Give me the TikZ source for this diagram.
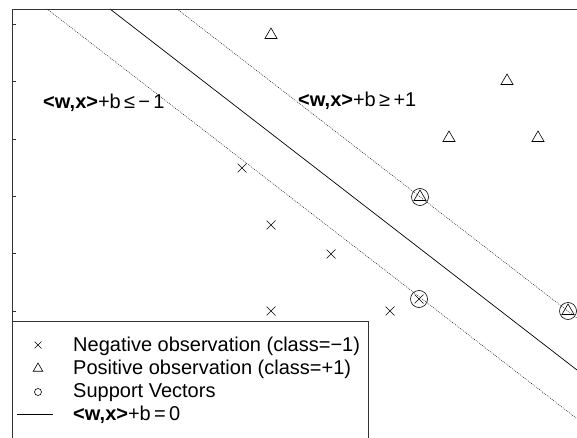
\documentclass[tikz,border=0pt]{standalone}
\usepackage{fontspec}
\setmainfont{Liberation Sans}
\usetikzlibrary{shapes.geometric}
\begin{document}
\begin{tikzpicture}[x=1pt,y=-1pt,
  axisline/.style={draw=black!80,line width=0.9pt},
  sepline/.style={draw=black,line width=0.7pt},
  marginline/.style={draw=black,line width=0.5pt,dash pattern=on 0.8pt off 1.2pt},
  crossmk/.style={inner sep=0pt,minimum size=#1,
    path picture={\draw[line width=0.6pt] (path picture bounding box.south west) -- (path picture bounding box.north east)
      (path picture bounding box.north west) -- (path picture bounding box.south east);}},
  crossmk/.default=9pt,
  trimk/.style={regular polygon,regular polygon sides=3,draw,line width=0.6pt,inner sep=0pt,minimum size=#1},
  trimk/.default=14pt,
  svmk/.style={circle,draw,line width=0.6pt,inner sep=0pt,minimum size=#1},
  svmk/.default=17pt,
  lbl/.style={font=\fontsize{20}{22}\selectfont,inner sep=0pt,anchor=base west},
  legtxt/.style={font=\fontsize{20}{22}\selectfont,inner sep=0pt,anchor=base west}
]
\useasboundingbox (0,0) rectangle (577,438);
\begin{scope}
\clip (12,9) rectangle (577,438);
% margin lines and separating hyperplane
\coordinate (lowA) at (47,9);
\coordinate (lowB) at (577,418.7);
\coordinate (midA) at (110,9);
\coordinate (midB) at (577,370);
\coordinate (upA) at (177,9);
\coordinate (upB) at (577,318.2);
\draw[marginline] (lowA) -- (lowB);
\draw[sepline] (midA) -- (midB);
\draw[marginline] (upA) -- (upB);
\end{scope}
% axes
\coordinate (ax0) at (12,438);
\coordinate (ax1) at (12,9);
\coordinate (ax2) at (577,9);
\draw[axisline] (ax0) -- (ax1) -- (ax2);
\foreach \ty in {24.5,81.8,139.1,196.4,253.7,311,368.3,425.6}
  \draw[axisline] (12,\ty) -- ++(3.5,0);
% positive observations
\node[trimk] (p1) at (271,35) {};
\node[trimk] (p2) at (507,81) {};
\node[trimk] (p3) at (449,138) {};
\node[trimk] (p4) at (538,138) {};
\node[trimk] (p5) at (420,197) {};
\node[trimk] (p6) at (568,311) {};
% negative observations
\node[crossmk] (n1) at (242,168) {};
\node[crossmk] (n2) at (271,225) {};
\node[crossmk] (n3) at (331,254) {};
\node[crossmk] (n4) at (271,311) {};
\node[crossmk] (n5) at (390,311) {};
\node[crossmk] (n6) at (419,299) {};
% support vectors
\node[svmk] (s1) at (p5) {};
\node[svmk] (s2) at (p6) {};
\node[svmk] (s3) at (n6) {};
% region labels
\node[lbl] (lneg) at (43,108.5) {\textbf{<w,x>}+b\,≤\,−\,1};
\node[lbl] (lpos) at (298,106.5) {\textbf{<w,x>}+b\,≥\,+1};
% legend
\node[draw=black!80,line width=0.9pt,fill=white,inner sep=0pt,minimum width=356pt,minimum height=130pt,anchor=north west] (leg) at (12,321) {};
\node[crossmk=7pt] (lg1) at (38,345) {};
\node[trimk=11pt] (lg2) at (38,368.5) {};
\node[svmk=7pt] (lg3) at (38,392) {};
\coordinate (lg4a) at (17,414);
\coordinate (lg4b) at (53,414);
\draw[sepline] (lg4a) -- (lg4b);
\node[legtxt] (t1) at (73,351.5) {Negative observation (class=−1)};
\node[legtxt] (t2) at (73,374.5) {Positive observation (class=+1)};
\node[legtxt] (t3) at (73,397.5) {Support Vectors};
\node[legtxt] (t4) at (73,420.5) {\textbf{<w,x>}+b\,=\,0};
\end{tikzpicture}
\end{document}
